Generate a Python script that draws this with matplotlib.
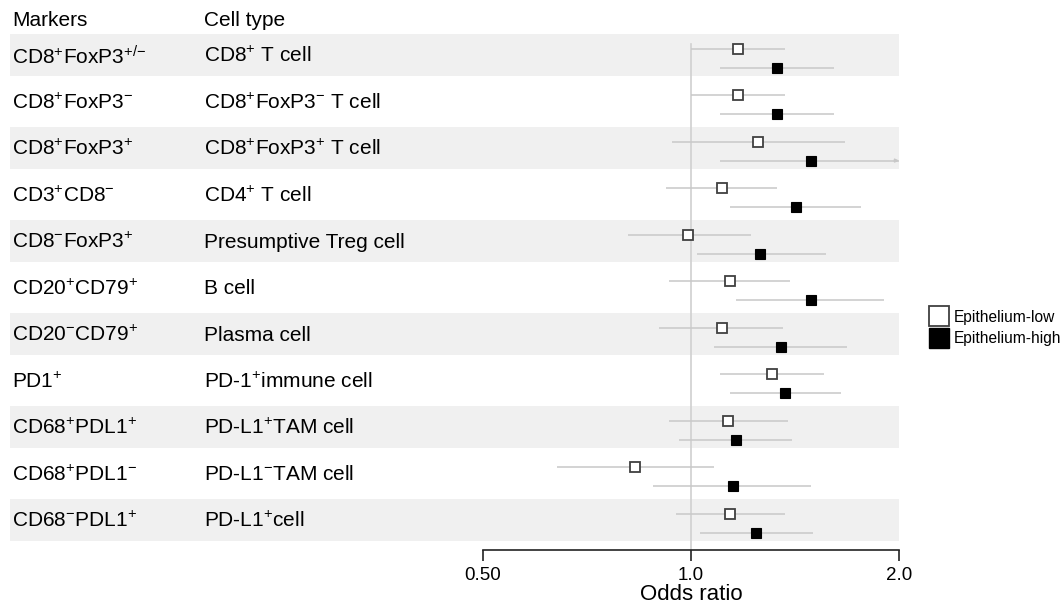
import matplotlib
matplotlib.use('Agg')
import matplotlib.pyplot as plt
from matplotlib.lines import Line2D
from matplotlib.patches import Rectangle
from matplotlib.transforms import blended_transform_factory
import numpy as np

plt.rcParams['font.family'] = ['Liberation Sans', 'DejaVu Sans']
plt.rcParams['mathtext.default'] = 'regular'

markers = ['CD8$^{+}$FoxP3$^{+/}$$^{-}$', 'CD8$^{+}$FoxP3$^{-}$', 'CD8$^{+}$FoxP3$^{+}$',
           'CD3$^{+}$CD8$^{-}$', 'CD8$^{-}$FoxP3$^{+}$', 'CD20$^{+}$CD79$^{+}$',
           'CD20$^{-}$CD79$^{+}$', 'PD1$^{+}$', 'CD68$^{+}$PDL1$^{+}$',
           'CD68$^{+}$PDL1$^{-}$', 'CD68$^{-}$PDL1$^{+}$']
cell_types = ['CD8$^{+}$ T cell', 'CD8$^{+}$FoxP3$^{-}$ T cell', 'CD8$^{+}$FoxP3$^{+}$ T cell',
              'CD4$^{+}$ T cell', 'Presumptive Treg cell', 'B cell', 'Plasma cell',
              'PD-1$^{+}$immune cell', 'PD-L1$^{+}$TAM cell', 'PD-L1$^{-}$TAM cell',
              'PD-L1$^{+}$cell']

# odds ratios and 95% CI, epithelium-low
low_or = [1.17, 1.17, 1.25, 1.11, 0.99, 1.14, 1.11, 1.31, 1.13, 0.83, 1.14]
low_lo = [1.00, 1.00, 0.94, 0.92, 0.81, 0.93, 0.90, 1.10, 0.93, 0.64, 0.95]
low_hi = [1.37, 1.37, 1.67, 1.33, 1.22, 1.39, 1.36, 1.56, 1.38, 1.08, 1.37]

# epithelium-high
high_or = [1.33, 1.33, 1.49, 1.42, 1.26, 1.49, 1.35, 1.37, 1.16, 1.15, 1.24]
high_lo = [1.10, 1.10, 1.10, 1.14, 1.02, 1.16, 1.08, 1.14, 0.96, 0.88, 1.03]
high_hi = [1.61, 1.61, 2.10, 1.76, 1.57, 1.90, 1.68, 1.65, 1.40, 1.49, 1.50]

W, H = 1064, 607
fig = plt.figure(figsize=(W / 100, H / 100), dpi=100)
ax = fig.add_axes([483 / W, 1 - 550 / H, 416 / W, 540 / H])

n = len(markers)
rows = np.arange(n)
xmin, xmax = 0.5, 2.0

ax.set_xscale('log')
ax.set_xlim(xmin, xmax)
ax.set_ylim(10.645, -0.968)

trans = blended_transform_factory(fig.transFigure, ax.transData)

# shaded rows
for i in rows[::2]:
    ax.add_patch(Rectangle((10 / W, i - 0.45), 889 / W, 0.9, transform=trans,
                           facecolor='#f0f0f0', edgecolor='none', clip_on=False, zorder=0))

# labels
fs = 15
ax.text(12 / W, -0.75, 'Markers', transform=trans, fontsize=fs, va='center')
ax.text(204 / W, -0.75, 'Cell type', transform=trans, fontsize=fs, va='center')
for i in rows:
    ax.text(12 / W, i + 0.03, markers[i], transform=trans, fontsize=fs, va='center')
    ax.text(204 / W, i + 0.03, cell_types[i], transform=trans, fontsize=fs, va='center')

# reference line
ax.plot([1, 1], [-0.24, 10.645], color='#d0d0d0', lw=1.2, zorder=1)

y_low = rows - 0.13
y_high = rows + 0.27

ax.hlines(y_low, low_lo, low_hi, color='#c8c8c8', lw=1.1, zorder=2)
ax.hlines(y_high, high_lo, high_hi, color='#c8c8c8', lw=1.1, zorder=2)
for i in rows:
    if high_hi[i] > xmax:
        ax.annotate('', xy=(xmax, y_high[i]), xytext=(xmax * 0.985, y_high[i]),
                    arrowprops=dict(arrowstyle='-|>', color='#c8c8c8', lw=1.1,
                                    mutation_scale=5, shrinkA=0, shrinkB=0))

ax.plot(low_or, y_low, 's', ms=6.5, mfc='white', mec='#404040', mew=1.3, ls='none', zorder=3)
ax.plot(high_or, y_high, 's', ms=7, mfc='black', mec='black', mew=0.8, ls='none', zorder=3)

# axis
for s in ['top', 'right', 'left']:
    ax.spines[s].set_visible(False)
ax.spines['bottom'].set_color('#222222')
ax.spines['bottom'].set_linewidth(1.2)
ax.set_yticks([])
ax.set_xticks([0.5, 1.0, 2.0])
ax.set_xticklabels(['0.50', '1.0', '2.0'])
ax.xaxis.set_minor_locator(matplotlib.ticker.NullLocator())
ax.tick_params(axis='x', length=8, width=1.2, color='#222222', labelsize=13.5, pad=4)
ax.set_xlabel('Odds ratio', fontsize=16, labelpad=0)
ax.patch.set_alpha(0)

handles = [Line2D([], [], marker='s', ls='none', ms=14.5, mfc='white', mec='#404040', mew=1.3),
           Line2D([], [], marker='s', ls='none', ms=14.5, mfc='black', mec='black')]
fig.legend(handles, ['Epithelium-low', 'Epithelium-high'], loc='center left',
           bbox_to_anchor=(928 / W, 1 - 328 / H), frameon=False, fontsize=11.2,
           borderpad=0, borderaxespad=0, handlelength=1.35, handletextpad=0.3,
           labelspacing=0.4)

fig.savefig('out.png', dpi=100)
